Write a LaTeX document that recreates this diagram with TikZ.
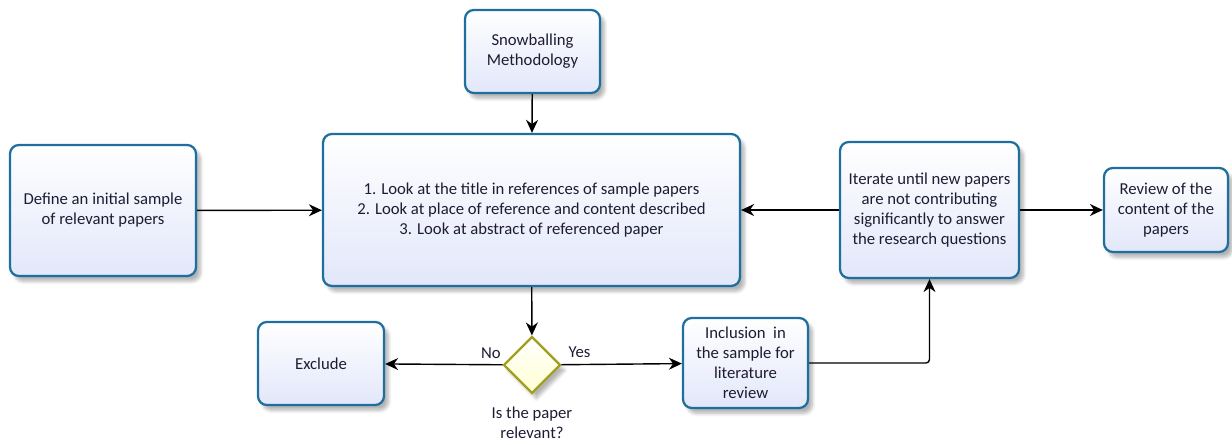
\documentclass[tikz,border=0pt]{standalone}
\usepackage{fontspec}
\setmainfont{Carlito}
\usepackage{tikz}
\usetikzlibrary{arrows.meta,positioning,shapes.geometric,shadows.blur}

\definecolor{boxline}{RGB}{31,111,158}
\definecolor{boxfill}{RGB}{226,231,250}
\definecolor{decline}{RGB}{160,160,30}
\definecolor{decfill}{RGB}{255,255,210}
\definecolor{txt}{RGB}{30,28,50}

\tikzset{
  box/.style={draw=boxline, line width=1.3pt, rounded corners=5pt, top color=white, bottom color=boxfill,
    align=center, text=txt, font=\fontsize{9.5}{11.4}\selectfont,
    blur shadow={shadow xshift=2.5pt, shadow yshift=-3pt, shadow opacity=30, shadow blur steps=6}},
  decision/.style={diamond, draw=decline, line width=1.3pt, top color=white, bottom color=decfill,
    minimum size=1.14cm, inner sep=0pt,
    blur shadow={shadow xshift=2.5pt, shadow yshift=-3pt, shadow opacity=30, shadow blur steps=6}},
  flow/.style={line width=0.8pt, -{Stealth[length=2.6mm,width=2.4mm]}},
  tag/.style={text=txt, font=\fontsize{9.5}{11.4}\selectfont, align=center}
}

\begin{document}
\begin{tikzpicture}[x=0.02cm, y=-0.02cm]
    \useasboundingbox (0,0) rectangle (1232,445);

    % top and left
    \node[box, minimum width=2.7cm, minimum height=1.66cm] (snow) at (532.5,51.5) {Snowballing\\Methodology};
    \node[box, minimum width=3.72cm, minimum height=2.62cm] (init) at (103,210.5) {Define an initial sample\\of relevant papers};

    % main step
    \node[box, minimum width=8.34cm, minimum height=3.04cm] (look) at (531.5,210) {1. Look at the title in references of sample papers\\2. Look at place of reference and content described\\3. Look at abstract of referenced paper};

    % right side
    \node[box, minimum width=3.58cm, minimum height=2.72cm] (iter) at (929.5,210) {Iterate until new papers\\are not contributing\\significantly to answer\\the research questions};
    \node[box, minimum width=2.48cm, minimum height=1.68cm] (review) at (1166,210) {Review of the\\content of the\\papers};

    % decision
    \node[decision] (dec) at (532,365) {};
    \node[tag, below=1.2mm of dec] (decq) {Is the paper\\relevant?};
    \node[box, minimum width=2.52cm, minimum height=1.66cm] (excl) at (321,363.5) {Exclude};
    \node[box, minimum width=2.5cm, minimum height=1.8cm] (incl) at (745.5,363) {Inclusion~~in\\the sample for\\literature\\review};

    % connectors
    \draw[flow] (snow) -- (look);
    \draw[flow] (init) -- (look);
    \draw[flow] (iter) -- (look);
    \draw[flow] (iter) -- (review);
    \draw[flow] (look) -- (dec);
    \draw[flow] (dec) -- node[tag, pos=0.1, above] {No} (excl);
    \draw[flow] (dec) -- node[tag, pos=0.15, above] {Yes} (incl);
    \draw[flow, rounded corners=2pt] (incl) -| (iter);
\end{tikzpicture}
\end{document}
